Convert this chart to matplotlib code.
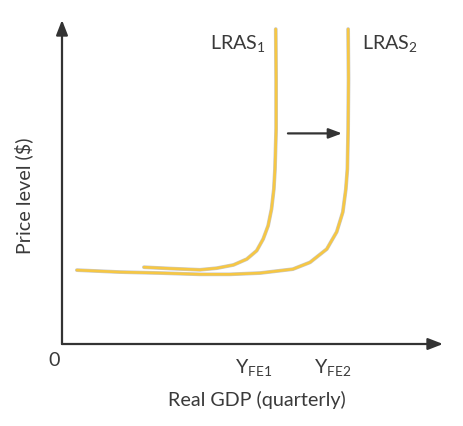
import matplotlib
matplotlib.use('Agg')
import matplotlib.pyplot as plt
import matplotlib.patheffects as pe

plt.rcParams['font.family'] = ['Lato', 'DejaVu Sans']
plt.rcParams['mathtext.fontset'] = 'custom'
plt.rcParams['mathtext.rm'] = 'Lato'
plt.rcParams['mathtext.it'] = 'Lato'

# curve points (x: real GDP, y: price level, both 0-100)
lras1_x = [21.5, 28.3, 36.2, 40.6, 45.0, 48.5, 51.1, 52.8, 54.1, 55.0, 55.6, 55.9, 56.2, 56.2, 56.1]
lras1_y = [23.7, 23.3, 22.9, 23.4, 24.4, 26.2, 28.8, 32.4, 36.5, 41.7, 47.8, 54.0, 66.4, 81.8, 97.2]
lras2_x = [3.9, 15.2, 25.7, 36.2, 44.1, 52.0, 60.6, 65.1, 69.5, 72.1, 73.7, 74.5, 74.9, 75.1, 75.2, 75.1]
lras2_y = [22.8, 22.2, 21.9, 21.5, 21.5, 21.9, 23.1, 25.2, 29.3, 34.6, 40.7, 47.8, 54.0, 66.4, 81.8, 97.2]
labels = ['LRAS$_\\mathrm{1}$', 'LRAS$_\\mathrm{2}$']
xticks = [50.4, 71.1]
xtick_labels = ['Y$_\\mathrm{FE1}$', 'Y$_\\mathrm{FE2}$']

fig = plt.figure(figsize=(4.63, 4.27), dpi=100)
ax = fig.add_axes([62 / 463, 82 / 427, 381 / 463, 324 / 427])
ax.set_xlim(0, 100)
ax.set_ylim(0, 100)
ax.axis('off')

dark = '#333333'
text_c = '#3a3a3a'
curve_fx = [pe.Stroke(linewidth=2.7, foreground='#c9c9c9'), pe.Normal()]
for xs, ys in [(lras1_x, lras1_y), (lras2_x, lras2_y)]:
    ax.plot(xs, ys, color='#F6C744', lw=1.9, solid_capstyle='round',
            solid_joinstyle='round', path_effects=curve_fx, clip_on=False)

# axes with arrow heads
arrow = dict(arrowstyle='-|>,head_length=0.9,head_width=0.35', color=dark, lw=1.6,
             shrinkA=0, shrinkB=0)
ax.annotate('', xy=(100, 0), xytext=(0, 0), arrowprops=arrow, annotation_clip=False)
ax.annotate('', xy=(0, 100), xytext=(0, 0), arrowprops=arrow, annotation_clip=False)
# shift arrow
ax.annotate('', xy=(73.5, 65.0), xytext=(59.3, 65.0),
            arrowprops=dict(arrowstyle='-|>,head_length=0.8,head_width=0.3', color=dark,
                            lw=1.6, shrinkA=0, shrinkB=0), annotation_clip=False)

fs = 14.2
ax.text(53.6, 93.2, labels[0], ha='right', va='center', fontsize=fs, color=text_c)
ax.text(78.7, 93.2, labels[1], ha='left', va='center', fontsize=fs, color=text_c)
for xt, lab in zip(xticks, xtick_labels):
    ax.text(xt, -6.8, lab, ha='center', va='center', fontsize=fs, color=text_c)
ax.text(-2.1, -4.9, '0', ha='center', va='center', fontsize=fs, color=text_c)
ax.text(51.2, -17.0, 'Real GDP (quarterly)', ha='center', va='center', fontsize=fs, color=text_c)
ax.text(-10.0, 46.0, 'Price level ($)', ha='center', va='center', rotation=90,
        fontsize=fs, color=text_c)

fig.savefig('out.png', dpi=100, facecolor='white')
